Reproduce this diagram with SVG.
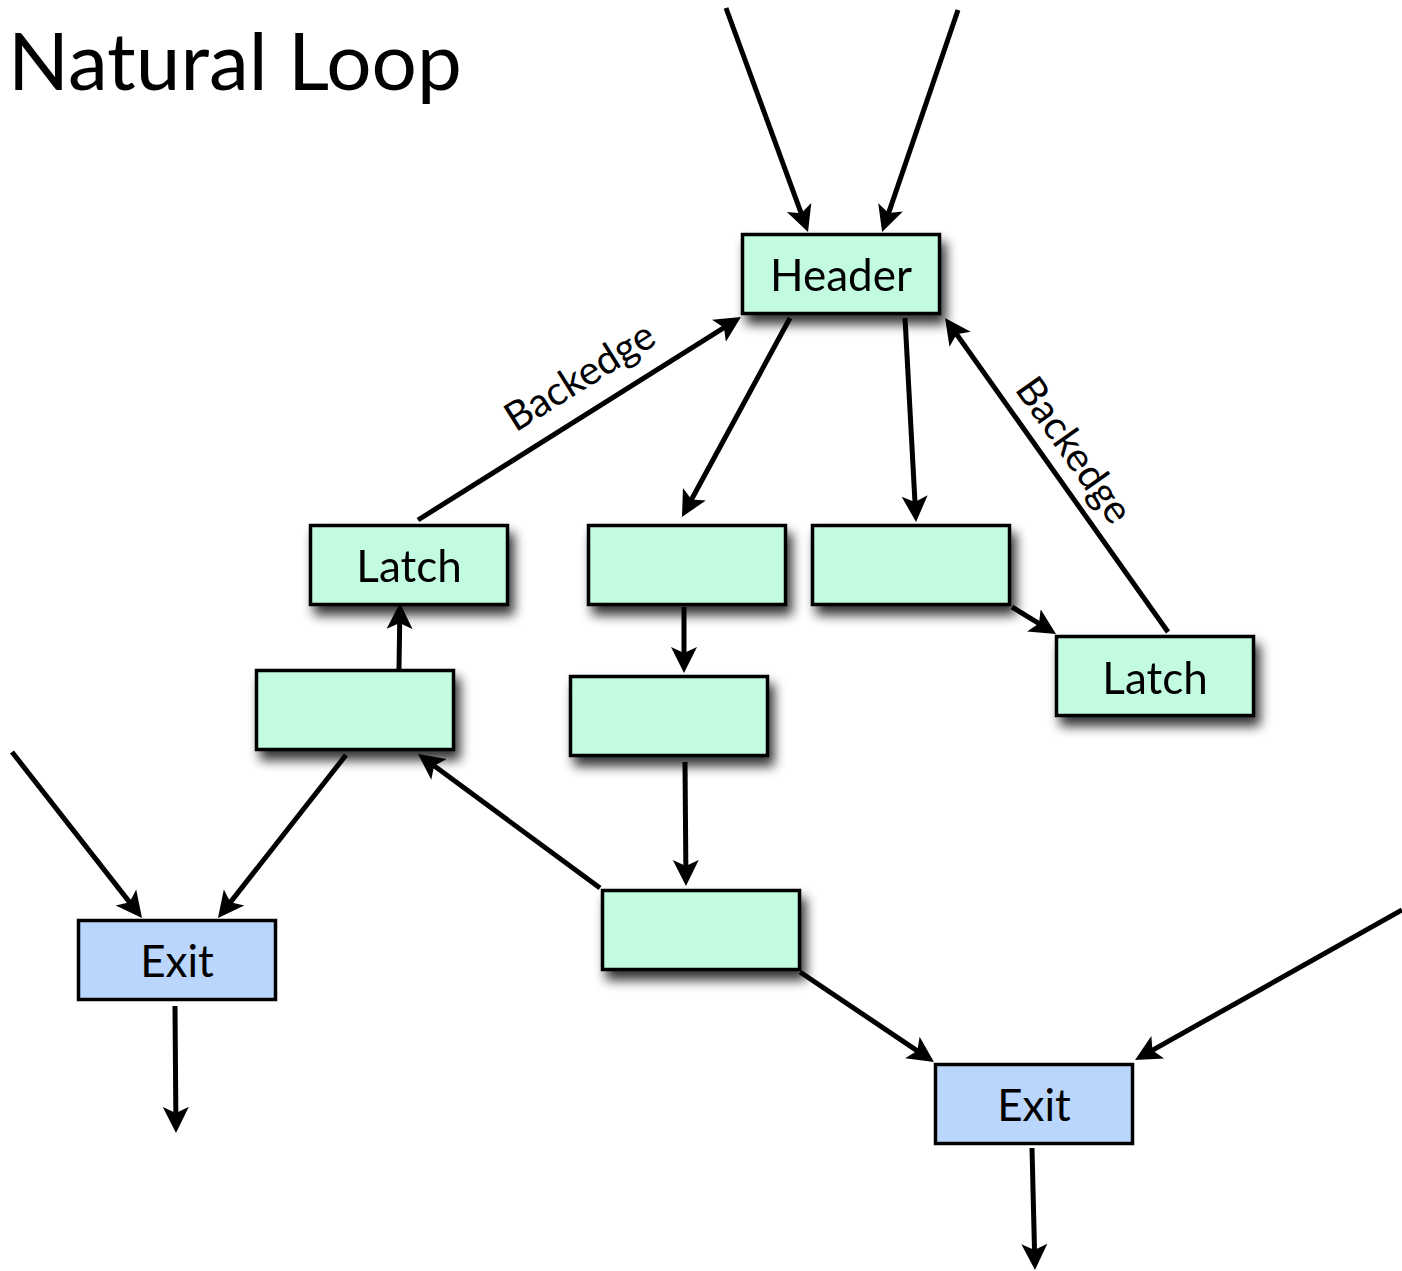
<svg xmlns="http://www.w3.org/2000/svg" width="1402" height="1271" viewBox="0 0 1402 1271">
  <defs>
    <filter id="shadow" x="-20%" y="-20%" width="150%" height="170%">
      <feGaussianBlur in="SourceAlpha" stdDeviation="6"/>
      <feOffset dx="5" dy="9" result="b"/>
      <feComponentTransfer><feFuncA type="linear" slope="0.8"/></feComponentTransfer>
      <feMerge><feMergeNode/><feMergeNode in="SourceGraphic"/></feMerge>
    </filter>
    <marker id="arrow" markerUnits="userSpaceOnUse" markerWidth="30" markerHeight="30" viewBox="0 -15 30 30" refX="14" refY="0" orient="auto">
      <path d="M0,-13 L26,0 L0,13 L6,0 Z" fill="#000"/>
    </marker>
  </defs>
  <style>
    .block rect { stroke: #000; stroke-width: 3.5; }
    .loop rect { fill: #c3fbe0; }
    .exit rect { fill: #bad6fd; }
    .label { font-family: Lato, "Open Sans", sans-serif; font-size: 44px; fill: #000; text-anchor: middle; }
    .edge { stroke: #000; stroke-width: 5; fill: none; }
    .edge .arr { marker-end: url(#arrow); }
    .tag { font-family: Lato, "Open Sans", sans-serif; font-size: 40px; fill: #000; text-anchor: middle; }
  </style>

  <rect width="1402" height="1271" fill="#fff"/>

  <text x="8" y="90" font-family="Lato, 'Open Sans', sans-serif" font-size="80" fill="#000">Natural Loop</text>

  <!-- connectors -->
  <g id="connectors" class="edge">
    <line class="arr" x1="726" y1="8" x2="803.9" y2="220.7"/>
    <line class="arr" x1="958" y1="10" x2="886" y2="220.6"/>
    <line class="arr" x1="418" y1="520" x2="730.8" y2="323.4"/>
    <line class="arr" x1="790" y1="318" x2="687.7" y2="506.5"/>
    <line class="arr" x1="905" y1="318" x2="915.4" y2="510"/>
    <line class="arr" x1="1168" y1="632" x2="952" y2="327.8"/>
    <line class="arr" x1="1012" y1="607" x2="1045.8" y2="627.7"/>
    <line class="arr" x1="684" y1="607" x2="684" y2="661"/>
    <line class="arr" x1="399" y1="669" x2="399.8" y2="615"/>
    <line class="arr" x1="685" y1="762" x2="685.9" y2="874"/>
    <line class="arr" x1="600" y1="888" x2="427.7" y2="761.1"/>
    <line class="arr" x1="346" y1="755" x2="225.4" y2="908.6"/>
    <line class="arr" x1="12" y1="752" x2="134.6" y2="908.6"/>
    <line class="arr" x1="175" y1="1006" x2="175.9" y2="1121"/>
    <line class="arr" x1="800" y1="972" x2="924" y2="1055.3"/>
    <line class="arr" x1="1402" y1="910" x2="1145.5" y2="1054.1"/>
    <line class="arr" x1="1032" y1="1148" x2="1034.7" y2="1258"/>
  </g>

  <!-- edge labels -->
  <text class="tag" transform="translate(587 388) rotate(-32.1)">Backedge</text>
  <text class="tag" transform="translate(1063 458) rotate(54.6)">Backedge</text>

  <!-- nodes -->
  <g id="header" class="block loop" filter="url(#shadow)">
    <rect x="742.5" y="234.5" width="197" height="79"/>
    <text class="label" x="841" y="291">Header</text>
  </g>
  <g id="latch-left" class="block loop" filter="url(#shadow)">
    <rect x="310.5" y="525.5" width="197" height="79"/>
    <text class="label" x="409" y="582">Latch</text>
  </g>
  <g id="block-a" class="block loop" filter="url(#shadow)">
    <rect x="588.5" y="525.5" width="197" height="79"/>
  </g>
  <g id="block-b" class="block loop" filter="url(#shadow)">
    <rect x="812.5" y="525.5" width="197" height="79"/>
  </g>
  <g id="latch-right" class="block loop" filter="url(#shadow)">
    <rect x="1056.5" y="636.5" width="197" height="79"/>
    <text class="label" x="1155" y="694">Latch</text>
  </g>
  <g id="block-c" class="block loop" filter="url(#shadow)">
    <rect x="256.5" y="670.5" width="197" height="79"/>
  </g>
  <g id="block-d" class="block loop" filter="url(#shadow)">
    <rect x="570.5" y="676.5" width="197" height="79"/>
  </g>
  <g id="block-e" class="block loop" filter="url(#shadow)">
    <rect x="602.5" y="890.5" width="197" height="79"/>
  </g>
  <g id="exit-left" class="block exit">
    <rect x="78.5" y="920.5" width="197" height="79"/>
    <text class="label" x="177" y="977">Exit</text>
  </g>
  <g id="exit-right" class="block exit">
    <rect x="935.5" y="1064.5" width="197" height="79"/>
    <text class="label" x="1034" y="1121">Exit</text>
  </g>
</svg>
